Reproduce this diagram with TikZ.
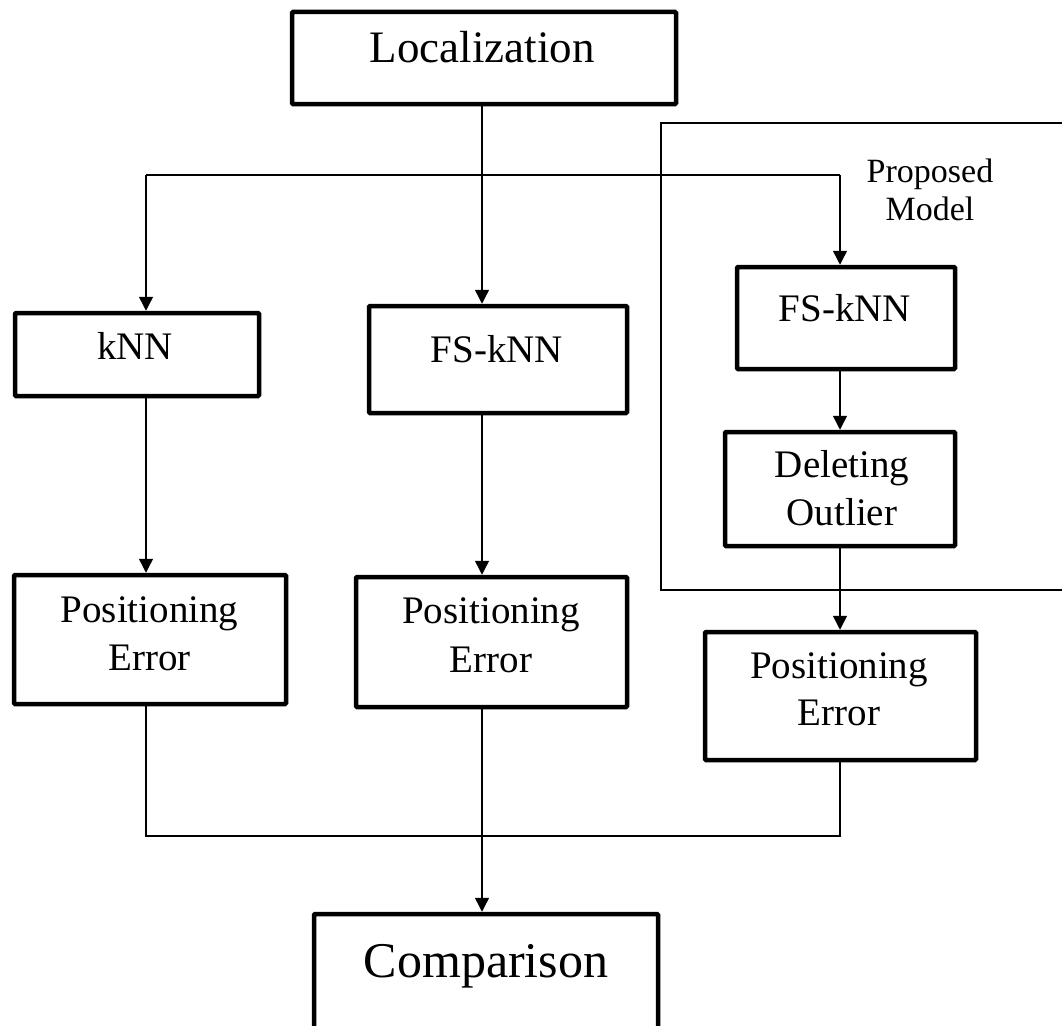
\documentclass[tikz,border=0pt]{standalone}
\usepackage{fontspec}
\setmainfont{Liberation Serif}
\usetikzlibrary{arrows.meta}

\tikzset{
  box/.style={draw=black, line width=4.5pt, rounded corners=1pt, inner sep=0pt, fill=none},
  txt/.style={anchor=base, inner sep=0pt, font=\fontsize{39}{47}\selectfont},
  bigtxt/.style={anchor=base, inner sep=0pt, font=\fontsize{45}{54}\selectfont},
  hugetxt/.style={anchor=base, inner sep=0pt, font=\fontsize{50}{60}\selectfont},
  smalltxt/.style={anchor=base, inner sep=0pt, font=\fontsize{34}{40}\selectfont},
  link/.style={draw=black, line width=1.4pt},
  arr/.style={link, -{Triangle[length=14pt,width=14pt]}},
  frame/.style={draw=black, line width=1.2pt}
}

\begin{document}
\begin{tikzpicture}[x=1pt, y=-1pt]
  \useasboundingbox (0,0) rectangle (1062,1025);
  \clip (0,0) rectangle (1062,1025);

  % proposed-model frame (runs off the right edge)
  \draw[frame] (661,123) rectangle (1090,590);
  \node[smalltxt] (prop1) at (930,182) {Proposed};
  \node[smalltxt] (prop2) at (930,220) {Model};

  % boxes
  \node[box, minimum width=384pt, minimum height=92pt]  (loc)  at (484,58)    {};
  \node[box, minimum width=244pt, minimum height=83pt]  (knn)  at (137,354.5) {};
  \node[box, minimum width=258pt, minimum height=107pt] (fsm)  at (498,359.5) {};
  \node[box, minimum width=218pt, minimum height=102pt] (fsr)  at (846,318)   {};
  \node[box, minimum width=230pt, minimum height=114pt] (del)  at (840,489)   {};
  \node[box, minimum width=272pt, minimum height=129pt] (pel)  at (150,639.5) {};
  \node[box, minimum width=271pt, minimum height=130pt] (pem)  at (491.5,642) {};
  \node[box, minimum width=271pt, minimum height=128pt] (per)  at (840.5,696) {};
  \node[box, minimum width=344pt, minimum height=166pt] (cmp)  at (486,997)   {};

  % labels
  \node[bigtxt]  (locT)  at (482,63)  {Localization};
  \node[txt]     (knnT)  at (135,359) {kNN};
  \node[txt]     (fsmT)  at (497,362) {FS-kNN};
  \node[txt]     (fsrT)  at (845,321) {FS-kNN};
  \node[txt]     (delT1) at (842,477) {Deleting};
  \node[txt]     (delT2) at (842,525) {Outlier};
  \node[txt]     (pelT1) at (149.5,622) {Positioning};
  \node[txt]     (pelT2) at (149.5,670) {Error};
  \node[txt]     (pemT1) at (491,623) {Positioning};
  \node[txt]     (pemT2) at (491,672) {Error};
  \node[txt]     (perT1) at (839,678) {Positioning};
  \node[txt]     (perT2) at (839,725) {Error};
  \node[hugetxt] (cmpT)  at (486,977) {Comparison};

  % junction points
  \coordinate (split) at (482,175);
  \coordinate (jl) at (146,175);
  \coordinate (jr) at (840,175);
  \coordinate (ml) at (146,836);
  \coordinate (mr) at (840,836);

  % connectors
  \draw[arr] (split |- loc.south) -- (split |- fsm.north);
  \draw[link] (jl) -- (jr);
  \draw[arr] (jl) -- (jl |- knn.north);
  \draw[arr] (jr) -- (jr |- fsr.north);
  \draw[arr] (jl |- knn.south) -- (jl |- pel.north);
  \draw[arr] (split |- fsm.south) -- (split |- pem.north);
  \draw[arr] (jr |- fsr.south) -- (jr |- del.north);
  \draw[arr] (jr |- del.south) -- (jr |- per.north);
  \draw[link] (jl |- pel.south) -- (ml) -- (mr) -- (jr |- per.south);
  \draw[arr] (split |- pem.south) -- (split |- cmp.north);
\end{tikzpicture}
\end{document}
